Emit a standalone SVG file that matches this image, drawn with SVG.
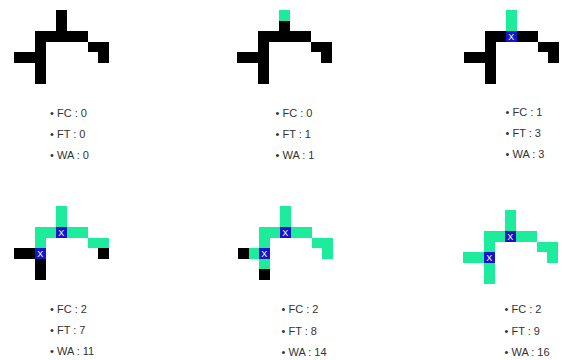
<svg xmlns="http://www.w3.org/2000/svg" xmlns:xlink="http://www.w3.org/1999/xlink" width="562" height="360" viewBox="0 0 562 360">
<style>
rect{shape-rendering:crispEdges}
.k{fill:#000}
.g{fill:#1dec9c}
.b{fill:#1414cc}
.x{font-family:"Liberation Sans",Arial,sans-serif;font-size:9px;fill:#fff;text-anchor:middle}
.t{font-family:"Liberation Sans",Arial,sans-serif;font-size:11px;fill:#333}
</style>
<defs>
<rect id="c" width="10.6" height="10.6"/>
<g id="xc"><rect class="b" width="10.6" height="10.6"/><text class="x" x="5.3" y="8.6">X</text></g>
</defs>
<rect width="562" height="360" fill="#fff"/>

<g id="panel1">
<g class="k">
<use xlink:href="#c" x="56" y="10"/><use xlink:href="#c" x="56" y="20.5"/>
<use xlink:href="#c" x="35" y="31"/><use xlink:href="#c" x="45.5" y="31"/><use xlink:href="#c" x="56" y="31"/><use xlink:href="#c" x="66.5" y="31"/><use xlink:href="#c" x="77" y="31"/>
<use xlink:href="#c" x="87.5" y="41.5"/><use xlink:href="#c" x="98" y="41.5"/><use xlink:href="#c" x="98" y="52"/>
<use xlink:href="#c" x="35" y="41.5"/><use xlink:href="#c" x="35" y="52"/><use xlink:href="#c" x="35" y="62.5"/><use xlink:href="#c" x="35" y="73"/>
<use xlink:href="#c" x="14" y="52"/><use xlink:href="#c" x="24.5" y="52"/>
</g>
<text class="t" x="50" y="117">• FC : 0</text>
<text class="t" x="50" y="138">• FT : 0</text>
<text class="t" x="50" y="159">• WA : 0</text>
</g>

<g id="panel2">
<g transform="translate(223,0)">
<use xlink:href="#c" class="g" x="56" y="10"/>
<g class="k">
<use xlink:href="#c" x="56" y="20.5"/>
<use xlink:href="#c" x="35" y="31"/><use xlink:href="#c" x="45.5" y="31"/><use xlink:href="#c" x="56" y="31"/><use xlink:href="#c" x="66.5" y="31"/><use xlink:href="#c" x="77" y="31"/>
<use xlink:href="#c" x="87.5" y="41.5"/><use xlink:href="#c" x="98" y="41.5"/><use xlink:href="#c" x="98" y="52"/>
<use xlink:href="#c" x="35" y="41.5"/><use xlink:href="#c" x="35" y="52"/><use xlink:href="#c" x="35" y="62.5"/><use xlink:href="#c" x="35" y="73"/>
<use xlink:href="#c" x="14" y="52"/><use xlink:href="#c" x="24.5" y="52"/>
</g>
</g>
<text class="t" x="275.5" y="117">• FC : 0</text>
<text class="t" x="275.5" y="138">• FT : 1</text>
<text class="t" x="275.5" y="159">• WA : 1</text>
</g>

<g id="panel3">
<g transform="translate(450,0)">
<g class="g">
<use xlink:href="#c" x="56" y="10"/><use xlink:href="#c" x="56" y="20.5"/>
</g>
<g class="k">
<use xlink:href="#c" x="35" y="31"/><use xlink:href="#c" x="45.5" y="31"/><use xlink:href="#c" x="66.5" y="31"/><use xlink:href="#c" x="77" y="31"/>
<use xlink:href="#c" x="87.5" y="41.5"/><use xlink:href="#c" x="98" y="41.5"/><use xlink:href="#c" x="98" y="52"/>
<use xlink:href="#c" x="35" y="41.5"/><use xlink:href="#c" x="35" y="52"/><use xlink:href="#c" x="35" y="62.5"/><use xlink:href="#c" x="35" y="73"/>
<use xlink:href="#c" x="14" y="52"/><use xlink:href="#c" x="24.5" y="52"/>
</g>
<use xlink:href="#xc" x="56" y="31"/>
</g>
<text class="t" x="505.5" y="116">• FC : 1</text>
<text class="t" x="505.5" y="137">• FT : 3</text>
<text class="t" x="505.5" y="158">• WA : 3</text>
</g>

<g id="panel4">
<g transform="translate(0,196)">
<g class="g">
<use xlink:href="#c" x="56" y="10"/><use xlink:href="#c" x="56" y="20.5"/>
<use xlink:href="#c" x="35" y="31"/><use xlink:href="#c" x="45.5" y="31"/><use xlink:href="#c" x="66.5" y="31"/><use xlink:href="#c" x="77" y="31"/>
<use xlink:href="#c" x="87.5" y="41.5"/><use xlink:href="#c" x="98" y="41.5"/>
<use xlink:href="#c" x="35" y="41.5"/>
</g>
<g class="k">
<use xlink:href="#c" x="98" y="52"/>
<use xlink:href="#c" x="35" y="62.5"/><use xlink:href="#c" x="35" y="73"/>
<use xlink:href="#c" x="14" y="52"/><use xlink:href="#c" x="24.5" y="52"/>
</g>
<use xlink:href="#xc" x="56" y="31"/>
<use xlink:href="#xc" x="35" y="52"/>
</g>
<text class="t" x="50" y="313">• FC : 2</text>
<text class="t" x="50" y="334">• FT : 7</text>
<text class="t" x="50" y="355">• WA : 11</text>
</g>

<g id="panel5">
<g transform="translate(224,196)">
<g class="g">
<use xlink:href="#c" x="56" y="10"/><use xlink:href="#c" x="56" y="20.5"/>
<use xlink:href="#c" x="35" y="31"/><use xlink:href="#c" x="45.5" y="31"/><use xlink:href="#c" x="66.5" y="31"/><use xlink:href="#c" x="77" y="31"/>
<use xlink:href="#c" x="87.5" y="41.5"/><use xlink:href="#c" x="98" y="41.5"/><use xlink:href="#c" x="98" y="52"/>
<use xlink:href="#c" x="35" y="41.5"/><use xlink:href="#c" x="35" y="62.5"/>
<use xlink:href="#c" x="24.5" y="52"/>
</g>
<g class="k">
<use xlink:href="#c" x="35" y="73"/>
<use xlink:href="#c" x="14" y="52"/>
</g>
<use xlink:href="#xc" x="56" y="31"/>
<use xlink:href="#xc" x="35" y="52"/>
</g>
<text class="t" x="281.5" y="313">• FC : 2</text>
<text class="t" x="281.5" y="335">• FT : 8</text>
<text class="t" x="281.5" y="356">• WA : 14</text>
</g>

<g id="panel6">
<g transform="translate(449,200)">
<g class="g">
<use xlink:href="#c" x="56" y="10"/><use xlink:href="#c" x="56" y="20.5"/>
<use xlink:href="#c" x="35" y="31"/><use xlink:href="#c" x="45.5" y="31"/><use xlink:href="#c" x="66.5" y="31"/><use xlink:href="#c" x="77" y="31"/>
<use xlink:href="#c" x="87.5" y="41.5"/><use xlink:href="#c" x="98" y="41.5"/><use xlink:href="#c" x="98" y="52"/>
<use xlink:href="#c" x="35" y="41.5"/><use xlink:href="#c" x="35" y="62.5"/><use xlink:href="#c" x="35" y="73"/>
<use xlink:href="#c" x="14" y="52"/><use xlink:href="#c" x="24.5" y="52"/>
</g>
<use xlink:href="#xc" x="56" y="31"/>
<use xlink:href="#xc" x="35" y="52"/>
</g>
<text class="t" x="504.5" y="313">• FC : 2</text>
<text class="t" x="504.5" y="335">• FT : 9</text>
<text class="t" x="504.5" y="356">• WA : 16</text>
</g>
</svg>
